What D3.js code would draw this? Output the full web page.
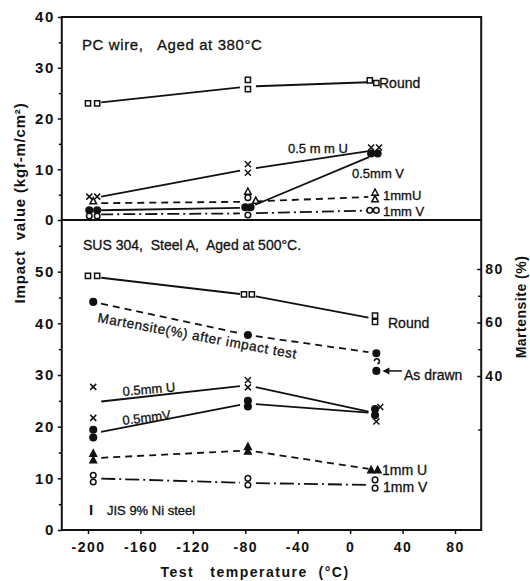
<!DOCTYPE html>
<html>
<head>
<meta charset="utf-8">
<script src="https://cdn.jsdelivr.net/npm/d3@7"></script>
<style>
  body { margin: 0; background: #fff; }
  text { font-family: "Liberation Sans", "DejaVu Sans", sans-serif; fill: #111; }
</style>
</head>
<body>
<div id="viz-container"></div>
<script>
// test temperatures (liquid N2, dry ice, room temp)
let temps = [-196, -78, 20];
let xTicks = [-200, -160, -120, -80, -40, 0, 40, 80];
let topTicks = [0, 10, 20, 30, 40];
let topMinor = [5, 15, 25, 35];
let botTicks = [0, 10, 20, 30, 40, 50];
let botMinor = [5, 15, 25, 35, 45, 55];
let martTicks = [40, 60, 80];
let martMinor = [20, 50, 70];

// PC wire, aged at 380C : line value at each temp + single specimens [temp, value]
let pcRoundLine = [23, 26.3, 27.2];
let pcRoundPts = [[-200, 23], [-193, 23], [-78, 27.6], [-78, 25.8], [15, 27.5], [20, 27]];
let pcU05Line = [4.3, 10, 13.8];
let pcU05Pts = [[-199, 4.6], [-193, 4.6], [-78, 11], [-78, 9.3], [16, 14.3], [22, 14.3]];
let pcV05Line = [1.9, 2.4, 13.0];
let pcV05Pts = [[-199, 1.9], [-193, 1.9], [-80, 2.5], [-76, 2.5], [16, 13.1], [21, 13.1]];
let pcU1Line = [3.3, 3.6, 4.6];
let pcU1Pts = [[-196, 3.7], [-78, 5.6], [-72, 3.8], [19, 5.4], [19, 4.1]];
let pcV1Line = [1.1, 1.3, 1.9];
let pcV1Pts = [[-199, 0.8], [-193, 0.8], [-78, 4.4], [-78, 1.0], [15, 1.9], [20, 1.9]];

// SUS 304, steel A, aged at 500C
let susRoundLine = [49, 45.5, 40.8];
let susRoundPts = [[-200, 49.2], [-193, 49.2], [-81, 45.6], [-75, 45.6], [19, 41.5], [19, 40.3]];
let susU05Line = [24.7, 28, 22.6];
let susU05Pts = [[-196, 27.7], [-196, 21.7], [-78, 29], [-78, 27.6], [23, 23.8], [20, 21]];
let susV05Line = [18.7, 24.5, 22.6];
let susV05Pts = [[-196, 19.4], [-196, 17.9], [-78, 25], [-78, 23.9], [19, 23.4], [19, 22.2]];
let susU1Line = [13.9, 15.4, 11.6];
let susU1Pts = [[-196, 14.8], [-196, 13.5], [-78, 16.1], [-78, 15.2], [16, 11.6], [21, 11.6]];
let susV1Line = [10, 9.1, 8.7];
let susV1Pts = [[-196, 10.6], [-196, 9.3], [-78, 10], [-78, 8.7], [19, 9.7], [19, 8.1]];

// martensite (%) after impact test, right axis
let martLine = [67.7, 55.3, 48.5];
let asDrawn = [[20, 41.9]];

let viz = d3.select("#viz-container")
  .append("svg")
    .attr("width", 530)
    .attr("height", 581);

let x = d3.scaleLinear().domain([-200, 80]).range([88, 455]);
let yTop = d3.scaleLinear().domain([0, 40]).range([220, 17]);
let yBot = d3.scaleLinear().domain([0, 60]).range([530, 220]);
let yMart = d3.scaleLinear().domain([40, 80]).range([376, 269]);

let left = x(-220), right = x(100);

// frame + divider
viz.append("rect")
  .attr("x", left).attr("y", yTop(40))
  .attr("width", right - left).attr("height", yBot(0) - yTop(40))
  .attr("fill", "none").attr("stroke", "#111").attr("stroke-width", 2);
viz.append("line")
  .attr("x1", left).attr("x2", right)
  .attr("y1", yTop(0)).attr("y2", yTop(0))
  .attr("stroke", "#111").attr("stroke-width", 2);

function styleAxis(g, size) {
  g.select(".domain").remove();
  g.selectAll(".tick line").attr("stroke", "#111").attr("stroke-width", 1.5);
  g.selectAll(".tick text")
    .attr("font-size", size).attr("font-weight", "bold")
    .attr("letter-spacing", 1.5).attr("fill", "#111");
}

// left axes
viz.append("g").attr("transform", `translate(${left},0)`)
  .call(d3.axisLeft(yTop).tickValues(topTicks).tickSize(4).tickPadding(3).tickFormat(d => d))
  .call(g => styleAxis(g, 15));
viz.append("g").attr("transform", `translate(${left},0)`)
  .call(d3.axisLeft(yTop).tickValues(topMinor).tickSize(3).tickFormat(""))
  .call(g => styleAxis(g, 15));
viz.append("g").attr("transform", `translate(${left},0)`)
  .call(d3.axisLeft(yBot).tickValues(botTicks).tickSize(4).tickPadding(3).tickFormat(d => d))
  .call(g => styleAxis(g, 15));
viz.append("g").attr("transform", `translate(${left},0)`)
  .call(d3.axisLeft(yBot).tickValues(botMinor).tickSize(3).tickFormat(""))
  .call(g => styleAxis(g, 15));

// bottom axis
viz.append("g").attr("transform", `translate(0,${yBot(0)})`)
  .call(d3.axisBottom(x).tickValues(xTicks).tickSize(4).tickPadding(8).tickFormat(d => String(d)))
  .call(g => styleAxis(g, 14));

// right (martensite) axis, ticks pointing inward
viz.append("g").attr("transform", `translate(${right},0)`)
  .call(d3.axisRight(yMart).tickValues(martTicks).tickSize(-4).tickPadding(4).tickFormat(d => d))
  .call(g => styleAxis(g, 14));
viz.append("g").attr("transform", `translate(${right},0)`)
  .call(d3.axisRight(yMart).tickValues(martMinor).tickSize(-3).tickFormat(""))
  .call(g => styleAxis(g, 14));

// axis titles
viz.append("text")
  .attr("transform", "translate(25,203) rotate(-90)")
  .attr("text-anchor", "middle").attr("font-size", 15).attr("font-weight", "bold")
  .attr("letter-spacing", 0.8)
  .attr("xml:space", "preserve")
  .text("Impact  value (kgf-m/cm²)");
viz.append("text")
  .attr("transform", "translate(526,307) rotate(-90)")
  .attr("text-anchor", "middle").attr("font-size", 14).attr("font-weight", "bold")
  .attr("letter-spacing", 0.5)
  .text("Martensite (%)");
viz.append("text")
  .attr("x", 255).attr("y", 577)
  .attr("text-anchor", "middle").attr("font-size", 14).attr("font-weight", "bold")
  .attr("letter-spacing", 1.5)
  .attr("xml:space", "preserve")
  .text("Test   temperature  (°C)");

// series table built from the arrays above
let series = [
  { line: pcRoundLine, pts: pcRoundPts, y: yTop, mark: "square", dash: null },
  { line: pcU05Line, pts: pcU05Pts, y: yTop, mark: "cross", dash: null },
  { line: pcV05Line, pts: pcV05Pts, y: yTop, mark: "dot", dash: null },
  { line: pcU1Line, pts: pcU1Pts, y: yTop, mark: "tri", dash: "7,5" },
  { line: pcV1Line, pts: pcV1Pts, y: yTop, mark: "ring", dash: "12,4,2,4" },
  { line: susRoundLine, pts: susRoundPts, y: yBot, mark: "square", dash: null },
  { line: susU05Line, pts: susU05Pts, y: yBot, mark: "cross", dash: null },
  { line: susV05Line, pts: susV05Pts, y: yBot, mark: "dot", dash: null },
  { line: susU1Line, pts: susU1Pts, y: yBot, mark: "trifill", dash: "7,5" },
  { line: susV1Line, pts: susV1Pts, y: yBot, mark: "ring", dash: "14,4,2,4" },
  { line: martLine, pts: temps.map((t, i) => [t, martLine[i]]), y: yMart, mark: "dot", dash: "7,5" },
  { line: [], pts: asDrawn, y: yMart, mark: "dot", dash: null }
];

function trimSeg(p, q, g) {
  let dx = q[0] - p[0], dy = q[1] - p[1];
  let L = Math.hypot(dx, dy);
  let ux = dx / L, uy = dy / L;
  return [p[0] + ux * g, p[1] + uy * g, q[0] - ux * g, q[1] - uy * g];
}

function markPath(type) {
  if (type == "square") return "M-2.6,-2.6h5.2v5.2h-5.2Z";
  if (type == "cross") return "M-3,-3L3,3M3,-3L-3,3";
  if (type == "tri" || type == "trifill") return "M0,-3.6L3.3,2.6L-3.3,2.6Z";
  return "";
}

series.forEach(function (s) {
  let px = s.line.map((v, i) => [x(temps[i]), s.y(v)]);
  for (let i = 0; i < px.length - 1; i++) {
    let seg = trimSeg(px[i], px[i + 1], 8);
    viz.append("line")
      .attr("x1", seg[0]).attr("y1", seg[1])
      .attr("x2", seg[2]).attr("y2", seg[3])
      .attr("stroke", "#111").attr("stroke-width", 1.8)
      .attr("stroke-dasharray", s.dash);
  }
  let g = viz.append("g");
  s.pts.forEach(function (p) {
    let cx = x(p[0]), cy = s.y(p[1]);
    if (s.mark == "dot" || s.mark == "ring") {
      g.append("circle")
        .attr("cx", cx).attr("cy", cy)
        .attr("r", s.mark == "dot" ? 3.3 : 2.8)
        .attr("fill", s.mark == "dot" ? "#111" : "#fff")
        .attr("stroke", "#111").attr("stroke-width", 1.5);
    } else {
      g.append("path")
        .attr("transform", `translate(${cx},${cy})`)
        .attr("d", markPath(s.mark))
        .attr("fill", s.mark == "trifill" ? "#111" : "#fff")
        .attr("stroke", "#111").attr("stroke-width", 1.5);
    }
  });
});

// little hook above the "as drawn" dot
viz.append("path")
  .attr("d", `M${x(20) - 2},${yMart(45.5)} a2.5,2.5 0 1 1 3,2.5`)
  .attr("fill", "none").attr("stroke", "#111").attr("stroke-width", 1.5);

// annotations
function label(txt, px, py, size, rot) {
  let t = viz.append("text")
    .attr("font-size", size)
    .attr("stroke", "#111").attr("stroke-width", 0.3)
    .attr("xml:space", "preserve")
    .text(txt);
  if (rot) t.attr("transform", `translate(${px},${py}) rotate(${rot})`);
  else t.attr("x", px).attr("y", py);
  return t;
}

label("PC wire,   Aged at 380°C", 82, 50, 15).attr("letter-spacing", 0.6);
label("Round", 379, 88, 14);
label("0.5 m m U", 288, 153, 13);
label("0.5mm V", 352, 178, 13);
label("1mmU", 383, 200, 13);
label("1mm V", 383, 216, 13);

label("SUS 304,  Steel A,  Aged at 500°C.", 83, 250, 14);
label("Round", 388, 328, 14);
label("Martensite(%) after impact test", 97, 322, 13.5, 10.5).attr("letter-spacing", 0.6);
label("As drawn", 404, 380, 14);
label("0.5mm U", 123, 396, 13, -5);
label("0.5mmV", 123, 425, 13, -7);
label("1mm U", 382, 475, 14);
label("1mm V", 383, 492, 14);
label("JIS 9% Ni steel", 107, 515, 13);
viz.append("text")
  .attr("x", 89).attr("y", 515)
  .attr("font-size", 15).attr("font-weight", "bold")
  .attr("font-family", "DejaVu Serif")
  .text("I");

// arrow to the "as drawn" point
viz.append("line")
  .attr("x1", 402).attr("x2", x(20) + 9)
  .attr("y1", yMart(41.9)).attr("y2", yMart(41.9))
  .attr("stroke", "#111").attr("stroke-width", 1.5);
viz.append("path")
  .attr("d", `M${x(20) + 6},${yMart(41.9)} l7,-3.5 l0,7 Z`)
  .attr("fill", "#111");
</script>
</body>
</html>
